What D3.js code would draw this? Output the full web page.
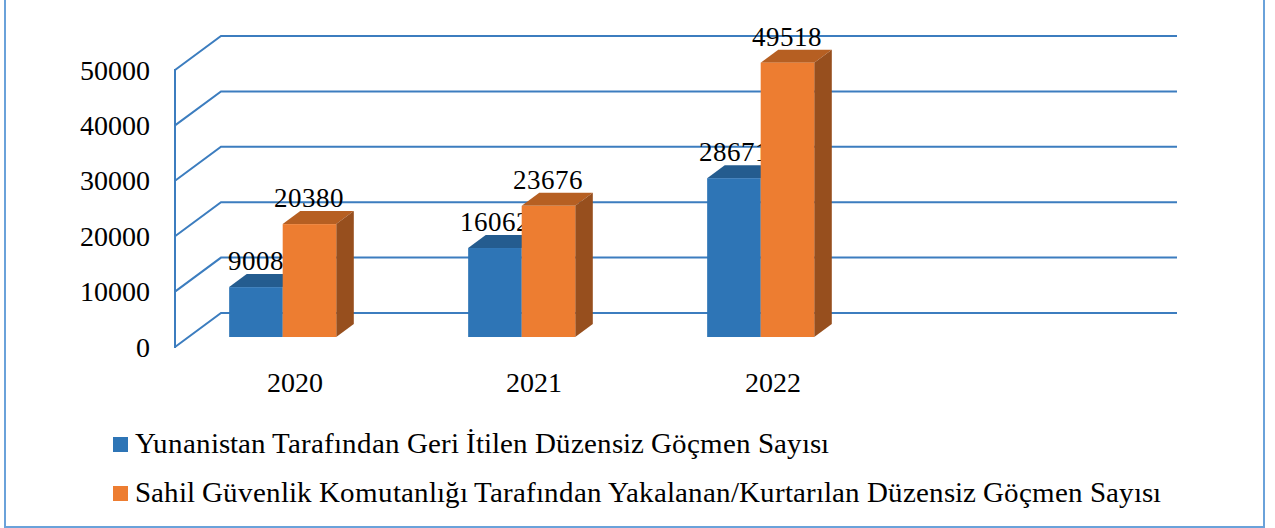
<!DOCTYPE html>
<html>
<head>
<meta charset="utf-8">
<script src="https://cdn.jsdelivr.net/npm/d3@7"></script>
<style>
  @font-face {
    font-family: "ChartSerif";
    src: local("Liberation Serif"), local("LiberationSerif"), local("LiberationSerif-Regular");
  }
</style>
</head>
<body style="margin:0">
<svg id="chart" width="1275" height="528"></svg>
<script>
// Data;
// the fourth slot is empty in the original chart, it only reserves room
const categories = ['2020', '2021', '2022', ''];
const seriesNames = [
  'Yunanistan Tarafından Geri İtilen Düzensiz Göçmen Sayısı',
  'Sahil Güvenlik Komutanlığı Tarafından Yakalanan/Kurtarılan Düzensiz Göçmen Sayısı'
];
const pushedBack = [9008, 16062, 28671, null];
const rescued = [20380, 23676, 49518, null];
const yTicks = [0, 10000, 20000, 30000, 40000, 50000];

const fontName = '"ChartSerif", "Liberation Serif", "Times New Roman", serif';

// 3D offset of the back wall;
const depthX = 46;
const depthY = 34;
const barZ0 = 0.294;
const barZ1 = 0.676;

const colors = [
  { front: '#2e75b6', top: '#245c8f', side: '#1f4e79' },
  { front: '#ed7d31', top: '#b65f22', side: '#974f1e' }
];
const gridColor = '#3c7dbf';

const svg = d3.select('#chart');

const x = d3.scaleBand().domain(categories).range([175, 1131]);
const y = d3.scaleLinear().domain([0, 50000]).range([347, 70]);

// project a point of the front plane to a given depth;
const px = (vx, z) => vx + z * depthX;
const py = (vy, z) => vy - z * depthY;

// serif text helper;
function label(sel, size) {
  return sel
    .style('font-family', fontName)
    .style('font-size', size + 'px');
}

// Outer frame;
svg.append('rect')
  .attr('x', 5).attr('y', -10)
  .attr('width', 1259).attr('height', 537)
  .attr('fill', 'none')
  .attr('stroke', '#6aa2da')
  .attr('stroke-width', 2);

// Walls and gridlines;
const grid = svg.append('g')
  .attr('fill', 'none')
  .attr('stroke', gridColor)
  .attr('stroke-width', 2);

yTicks.forEach((t) => {
  grid.append('path').attr('d', d3.line()([
    [px(175, 0), py(y(t), 0)],
    [px(175, 1), py(y(t), 1)],
    [px(1131, 1), py(y(t), 1)]
  ]));
});

grid.append('line')
  .attr('x1', 175).attr('x2', 175)
  .attr('y1', y(50000) - 1).attr('y2', y(0) + 1);

// Y axis labels;
svg.selectAll('text.ytick')
  .data(yTicks)
  .join('text')
  .attr('class', 'ytick')
  .attr('x', 150)
  .attr('y', (d) => y(d))
  .attr('dy', '0.34em')
  .attr('text-anchor', 'end')
  .call(label, 28)
  .text((d) => d);

// Bars;
const barW = x.bandwidth() * 0.224;
const barOffset = x.bandwidth() * 0.17;
const series = [pushedBack, rescued];

categories.forEach((c, i) => {
  series.forEach((values, s) => {
    const v = values[i];
    if (v == null) return;
    const x0 = px(x(c) + barOffset + s * barW, barZ0);
    const x1 = x0 + barW;
    const yb = py(y(0), barZ0);
    const yt = py(y(v), barZ0);
    const ddx = (barZ1 - barZ0) * depthX;
    const ddy = (barZ1 - barZ0) * depthY;
    // top face;
    svg.append('path')
      .attr('d', d3.line()([[x0, yt], [x0 + ddx, yt - ddy], [x1 + ddx, yt - ddy], [x1, yt]]) + 'Z')
      .attr('fill', colors[s].top);
    // side face;
    svg.append('path')
      .attr('d', d3.line()([[x1, yt], [x1 + ddx, yt - ddy], [x1 + ddx, yb - ddy], [x1, yb]]) + 'Z')
      .attr('fill', colors[s].side);
    // front face;
    svg.append('rect')
      .attr('x', x0).attr('y', yt)
      .attr('width', barW).attr('height', yb - yt)
      .attr('fill', colors[s].front);
    // value label;
    svg.append('text')
      .attr('x', x0 + barW / 2)
      .attr('y', yt - 17)
      .attr('text-anchor', 'middle')
      .call(label, 26.5)
      .text(v);
  });
});

// Category labels;
svg.selectAll('text.cat')
  .data(categories)
  .join('text')
  .attr('class', 'cat')
  .attr('x', (d) => x(d) + x.bandwidth() / 2)
  .attr('y', 392)
  .attr('text-anchor', 'middle')
  .call(label, 28)
  .text((d) => d);

// Legend;
seriesNames.forEach((name, i) => {
  svg.append('rect')
    .attr('x', 113).attr('y', 437 + i * 49)
    .attr('width', 15).attr('height', 15)
    .attr('fill', colors[i].front);
  svg.append('text')
    .attr('x', 135)
    .attr('y', 453 + i * 49)
    .call(label, 29.3)
    .text(name);
});
</script>
</body>
</html>
